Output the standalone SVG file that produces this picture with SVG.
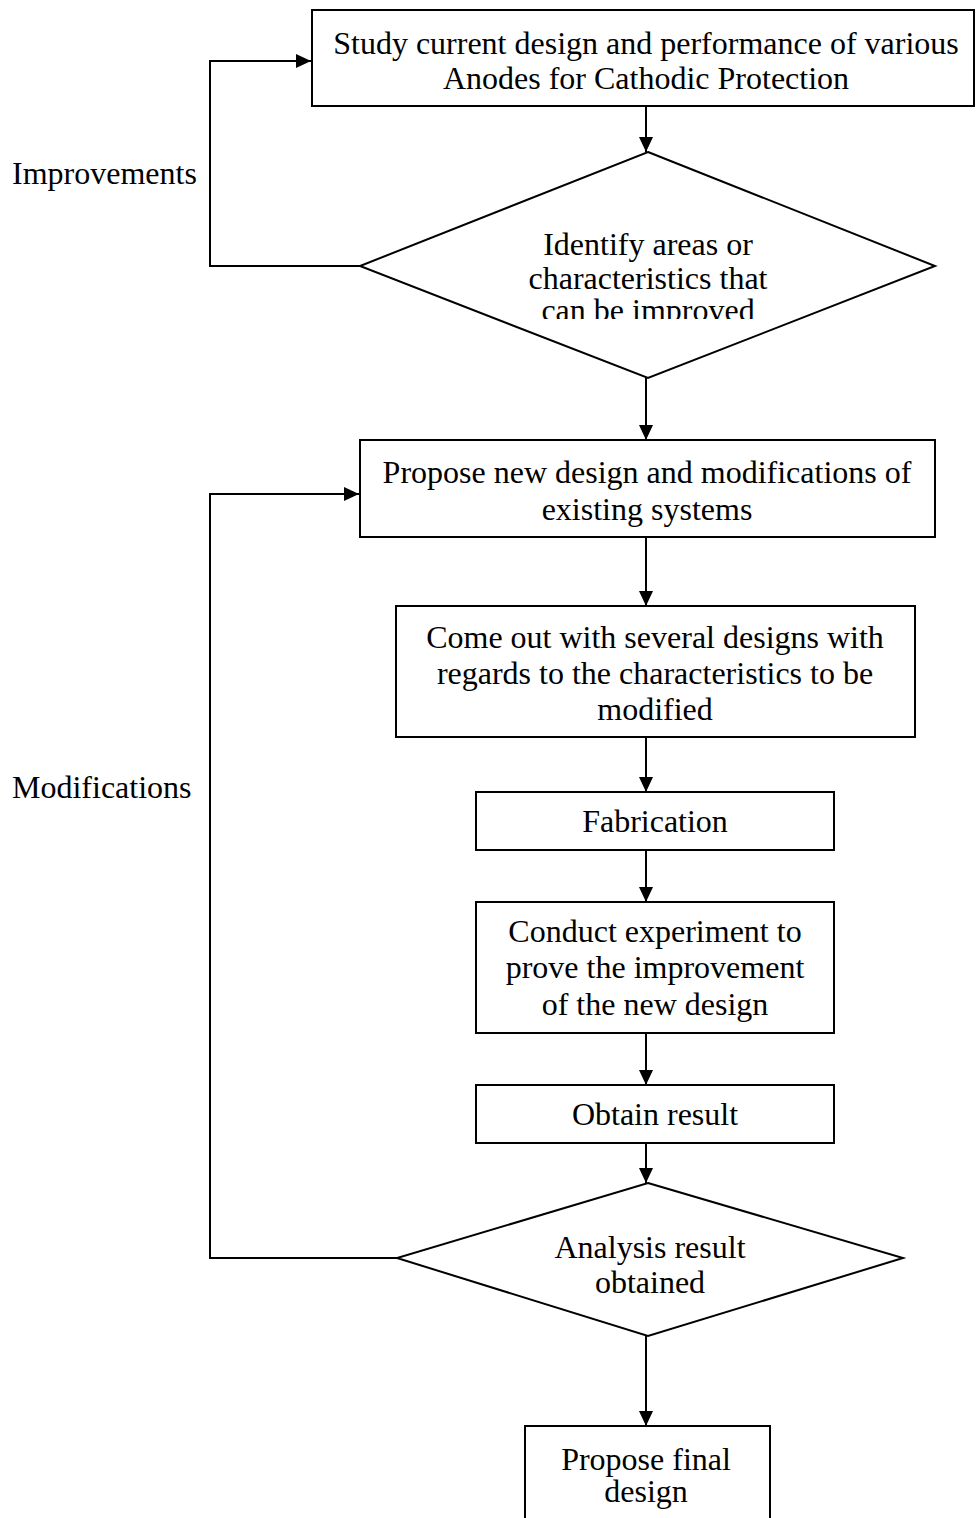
<svg xmlns="http://www.w3.org/2000/svg" width="976" height="1518" viewBox="0 0 976 1518">
<style>
.s{fill:#fff;stroke:#000;stroke-width:2}
.t{font-family:"Liberation Serif","Times New Roman",serif;font-size:32px;fill:#000;text-anchor:middle}
.l{font-family:"Liberation Serif","Times New Roman",serif;font-size:32px;fill:#000}
.c{fill:none;stroke:#000;stroke-width:2}
</style>
<defs>
<marker id="ah" viewBox="0 0 15 14" refX="15" refY="7" markerWidth="15" markerHeight="14" markerUnits="userSpaceOnUse" orient="auto">
<path d="M0,0 L15,7 L0,14 z" fill="#000"/>
</marker>
<clipPath id="cd1"><rect x="0" y="0" width="976" height="319"/></clipPath>
</defs>
<rect width="976" height="1518" fill="#fff"/>
<g id="connectors">
<line class="c" x1="646" y1="106" x2="646" y2="152" marker-end="url(#ah)"/>
<polyline class="c" points="360,266 210,266 210,61 311,61" marker-end="url(#ah)"/>
<line class="c" x1="646" y1="378" x2="646" y2="440" marker-end="url(#ah)"/>
<polyline class="c" points="397,1258 210,1258 210,494 359,494" marker-end="url(#ah)"/>
<line class="c" x1="646" y1="537" x2="646" y2="606" marker-end="url(#ah)"/>
<line class="c" x1="646" y1="737" x2="646" y2="792" marker-end="url(#ah)"/>
<line class="c" x1="646" y1="850" x2="646" y2="902" marker-end="url(#ah)"/>
<line class="c" x1="646" y1="1033" x2="646" y2="1085" marker-end="url(#ah)"/>
<line class="c" x1="646" y1="1143" x2="646" y2="1183" marker-end="url(#ah)"/>
<line class="c" x1="646" y1="1336" x2="646" y2="1426" marker-end="url(#ah)"/>
<text class="l" x="12" y="184">Improvements</text>
<text class="l" x="12" y="798">Modifications</text>
</g>
<g id="n1">
<rect class="s" x="312" y="10" width="662" height="96"/>
<text class="t" x="646" y="54">Study current design and performance of various</text>
<text class="t" x="646" y="89">Anodes for Cathodic Protection</text>
</g>
<g id="n2">
<polygon class="s" points="648,152 935,266 648,378 360,266"/>
<g clip-path="url(#cd1)">
<text class="t" x="648" y="255">Identify areas or</text>
<text class="t" x="648" y="289">characteristics that</text>
<text class="t" x="648" y="321">can be improved</text>
</g>
</g>
<g id="n3">
<rect class="s" x="360" y="440" width="575" height="97"/>
<text class="t" x="647" y="483">Propose new design and modifications of</text>
<text class="t" x="647" y="520">existing systems</text>
</g>
<g id="n4">
<rect class="s" x="396" y="606" width="519" height="131"/>
<text class="t" x="655" y="648">Come out with several designs with</text>
<text class="t" x="655" y="684">regards to the characteristics to be</text>
<text class="t" x="655" y="720">modified</text>
</g>
<g id="n5">
<rect class="s" x="476" y="792" width="358" height="58"/>
<text class="t" x="655" y="832">Fabrication</text>
</g>
<g id="n6">
<rect class="s" x="476" y="902" width="358" height="131"/>
<text class="t" x="655" y="942">Conduct experiment to</text>
<text class="t" x="655" y="978">prove the improvement</text>
<text class="t" x="655" y="1015">of the new design</text>
</g>
<g id="n7">
<rect class="s" x="476" y="1085" width="358" height="58"/>
<text class="t" x="655" y="1125">Obtain result</text>
</g>
<g id="n8">
<polygon class="s" points="648,1183 903,1258 648,1336 397,1258"/>
<text class="t" x="650" y="1258">Analysis result</text>
<text class="t" x="650" y="1293">obtained</text>
</g>
<g id="n9">
<rect class="s" x="525" y="1426" width="245" height="100"/>
<text class="t" x="646" y="1470">Propose final</text>
<text class="t" x="646" y="1502">design</text>
</g>
</svg>
